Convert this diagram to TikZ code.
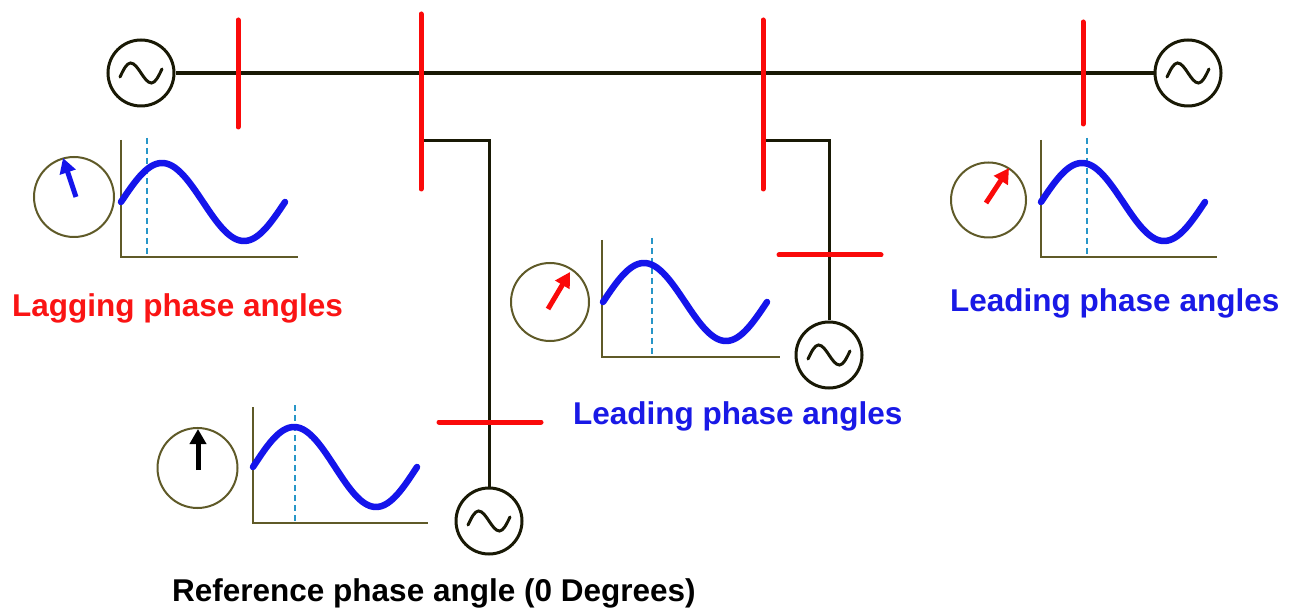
\documentclass[tikz,border=0pt]{standalone}
\usepackage{fontspec}
\setmainfont{Liberation Sans}
\usetikzlibrary{arrows.meta}
\definecolor{linek}{RGB}{25,25,5}
\definecolor{busred}{RGB}{250,10,10}
\definecolor{olivec}{RGB}{95,90,40}
\definecolor{sineblue}{RGB}{20,20,235}
\definecolor{dashc}{RGB}{40,150,200}
\definecolor{txtblue}{RGB}{25,25,230}
\definecolor{txtred}{RGB}{250,20,20}
\begin{document}
\begin{tikzpicture}[x=1pt,y=-1pt,
  gen/.style={circle,draw=linek,line width=3pt,minimum size=66pt,inner sep=0pt,
    path picture={\draw[line width=3pt,linek,line cap=round]
      ([xshift=-21pt,yshift=-4pt]path picture bounding box.center)
      sin ++(10.5pt,14pt) cos ++(10.5pt,-10pt) sin ++(10.5pt,-10pt) cos ++(10.5pt,14pt);}},
  wire/.style={draw=linek,line width=3.5pt},
  wiretwo/.style={draw=linek,line width=3pt},
  bus/.style={draw=busred,line width=5pt,line cap=round},
  dial/.style={draw=olivec,line width=2pt},
  axis/.style={draw=olivec,line width=2pt},
  sine/.style={draw=sineblue,line width=6.5pt,line cap=round,line join=round},
  refline/.style={draw=dashc,line width=2.5pt,dash pattern=on 6pt off 4pt},
  phasor/.style={line width=5pt,-{Triangle[length=15pt,width=16pt]}},
  lbl/.style={anchor=base west,inner sep=0pt,font=\bfseries\fontsize{31.5}{36}\selectfont}
]
\useasboundingbox (0,0) rectangle (1295,609);
\fill[white] (0,0) rectangle (1295,609);

% generators
\node[gen] (gA) at (141,73) {};
\node[gen] (gB) at (1188,73) {};
\node[gen] (gC) at (489,521) {};
\node[gen] (gD) at (829,355) {};

% main line
\draw[wire] (gA) -- (gB);
% branches
\coordinate (jA) at (421,141);
\coordinate (jB) at (763,141);
\draw[wiretwo] (jA) -| (gC);
\draw[wiretwo] (jB) -| (gD);

% bus bars
\draw[bus] (238,20) -- (238,127);
\draw[bus] (421,14) -- (421,189);
\draw[bus] (763,20) -- (763,189);
\draw[bus] (1083,22) -- (1083,124);
\draw[bus] (439,422) -- (541,422);
\draw[bus] (779,255) -- (881,255);

% panel 1 (lagging)
\draw[dial] (74,197) circle (40);
\draw[axis] (121,140) -- (121,257) -- (298,257);
\draw[refline] (147,138) -- (147,257);
\draw[sine] plot[domain=0:164,samples=80,smooth] ({121+\x},{202-39*sin(\x/164*360)});
\draw[phasor,sineblue] (76,197) -- (63,158);

% panel 2 (middle leading)
\draw[dial] (550,302) circle (39);
\draw[axis] (602,240) -- (602,357) -- (780,357);
\draw[refline] (652,238) -- (652,357);
\draw[sine] plot[domain=0:164,samples=80,smooth] ({603+\x},{302-39*sin(\x/164*360)});
\draw[phasor,busred] (548,309) -- (570,272);

% panel 3 (reference)
\draw[dial] (197.5,468) circle (40);
\draw[axis] (253,407) -- (253,523) -- (428,523);
\draw[refline] (295,405) -- (295,523);
\draw[sine] plot[domain=0:164,samples=80,smooth] ({253+\x},{467-40*sin(\x/164*360)});
\draw[phasor,black] (198,470) -- (198,429);

% panel 4 (right leading)
\draw[dial] (988.5,200) circle (37.5);
\draw[axis] (1041,140) -- (1041,257) -- (1217,257);
\draw[refline] (1087,138) -- (1087,257);
\draw[sine] plot[domain=0:164,samples=80,smooth] ({1041+\x},{202-39*sin(\x/164*360)});
\draw[phasor,busred] (986,203) -- (1009,168);

% labels
\node[lbl,text=txtred] (tLag) at (12,317) {Lagging phase angles};
\node[lbl,text=txtblue] (tLeadA) at (573,424) {Leading phase angles};
\node[lbl,text=txtblue] (tLeadB) at (950,312) {Leading phase angles};
\node[lbl,text=black] (tRef) at (172,601) {Reference phase angle (0 Degrees)};
\end{tikzpicture}
\end{document}
